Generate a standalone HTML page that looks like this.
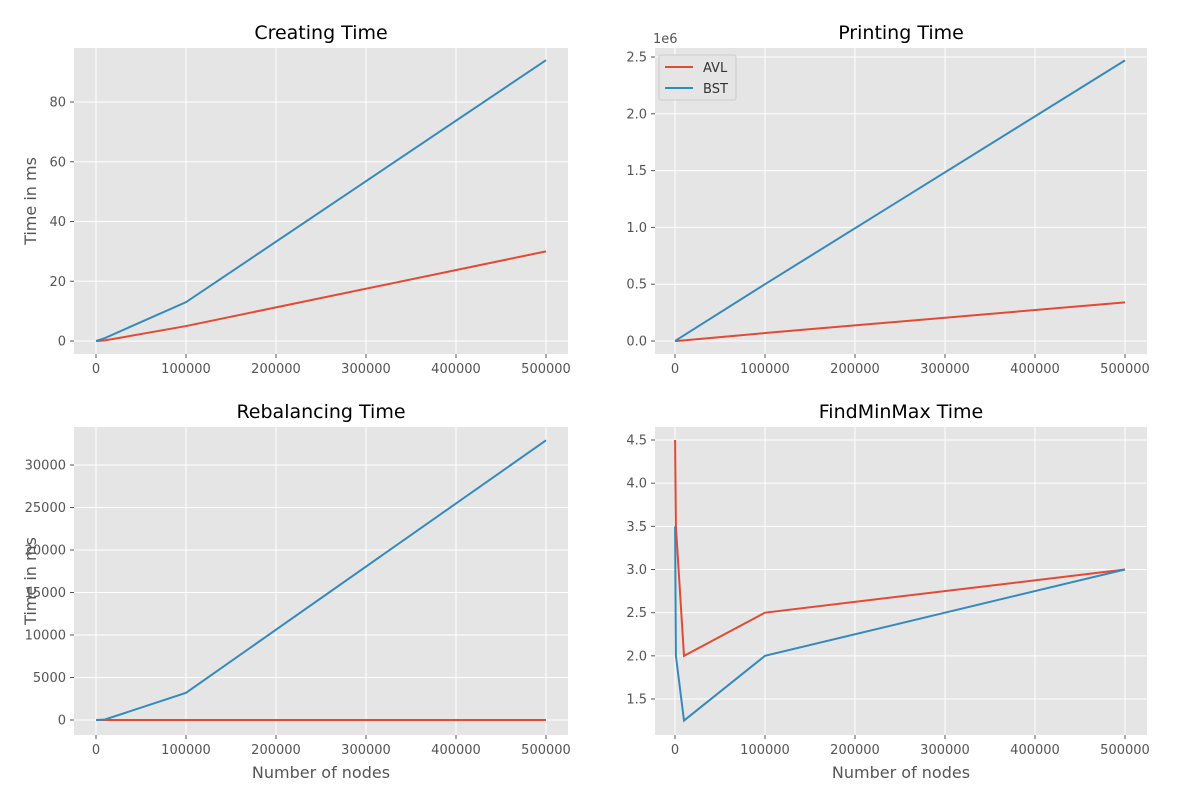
<!DOCTYPE html>
<html><head><meta charset="utf-8"><style>
body{margin:0;background:#fff;font-family:"Liberation Sans","DejaVu Sans",sans-serif}
svg text{font-family:"DejaVu Sans","Liberation Sans",sans-serif}
</style></head><body>
<svg id="fig" width="1200" height="800"></svg>
<script>
const xNodes=[100,1000,10000,100000,500000];
const createAVL=[0,0,0.2,5,30];
const createBST=[0,0.1,1,13,94];
const printAVL=[0,0,0.005e6,0.07e6,0.34e6];
const printBST=[0,0.005e6,0.05e6,0.5e6,2.47e6];
const rebalAVL=[0,0,0,0,0];
const rebalBST=[0,5,60,3200,32900];
const minmaxAVL=[4.5,3.5,2.0,2.5,3.0];
const minmaxBST=[3.5,2.0,1.25,2.0,3.0];
const xTicks=[0,100000,200000,300000,400000,500000];
const panels=[
 {name:'creating',title:'Creating Time',L:74,R:568,T:48,B:354,x0:96,y0v:0,y0:341,y1v:80,y1:102,yt:[0,20,40,60,80],ylab:'Time in ms',xlab:null,a:createAVL,b:createBST,fmt:v=>v,legend:false},
 {name:'printing',title:'Printing Time',L:655,R:1147,T:48,B:354,x0:675,y0v:0,y0:341,y1v:2.5e6,y1:57,yt:[0,0.5e6,1e6,1.5e6,2e6,2.5e6],ylab:null,xlab:null,a:printAVL,b:printBST,fmt:v=>(v/1e6).toFixed(1),legend:true,off:'1e6'},
 {name:'rebalancing',title:'Rebalancing Time',L:74,R:568,T:427,B:735,x0:96,y0v:0,y0:720,y1v:30000,y1:465,yt:[0,5000,10000,15000,20000,25000,30000],ylab:'Time in ms',xlab:'Number of nodes',a:rebalAVL,b:rebalBST,fmt:v=>v,legend:false},
 {name:'findminmax',title:'FindMinMax Time',L:655,R:1147,T:427,B:735,x0:675,y0v:1.5,y0:699,y1v:4.5,y1:440,yt:[1.5,2,2.5,3,3.5,4,4.5],ylab:null,xlab:'Number of nodes',a:minmaxAVL,b:minmaxBST,fmt:v=>v.toFixed(1),legend:false}
];
const NS='http://www.w3.org/2000/svg';
const svg=document.getElementById('fig');
function mk(tag,attrs,parent,text){const e=document.createElementNS(NS,tag);for(const k in attrs)e.setAttribute(k,attrs[k]);if(text!==undefined)e.textContent=text;(parent||svg).appendChild(e);return e;}
panels.forEach(p=>{
 const g=mk('g',{});
 
 
 const xs=v=>p.x0+v*(450/500000);
 const ys=v=>p.y0+(v-p.y0v)*(p.y1-p.y0)/(p.y1v-p.y0v);
 const bg=mk('rect',{x:p.L,y:p.T,width:p.R-p.L,height:p.B-p.T,fill:'#e5e5e5'},g);
 
 
 xTicks.forEach(t=>{const x=xs(t);mk('line',{x1:x,x2:x,y1:p.T,y2:p.B,stroke:'#fff','stroke-width':1},g);mk('line',{x1:x,x2:x,y1:p.B,y2:p.B+4,stroke:'#555'},g);
  const tl=mk('text',{x:x,y:p.B+19,'text-anchor':'middle','font-size':13,fill:'#555'},g,String(t));
  
  });
 p.yt.forEach(t=>{const y=ys(t);mk('line',{x1:p.L,x2:p.R,y1:y,y2:y,stroke:'#fff','stroke-width':1},g);mk('line',{x1:p.L-4,x2:p.L,y1:y,y2:y,stroke:'#555'},g);
  const tl=mk('text',{x:p.L-8,y:y+4.5,'text-anchor':'end','font-size':13,fill:'#555'},g,String(p.fmt(t)));
  
  });
 const ti=mk('text',{x:(p.L+p.R)/2,y:p.T-9,'text-anchor':'middle','font-size':19,fill:'#000'},g,p.title);
 
 
 if(p.ylab){const yl=mk('text',{x:0,y:0,transform:`translate(${p.L-38},${(p.T+p.B)/2}) rotate(-90)`,'text-anchor':'middle','font-size':16,fill:'#555'},g,p.ylab);
  
  }
 if(p.xlab){const xl=mk('text',{x:(p.L+p.R)/2,y:p.B+43,'text-anchor':'middle','font-size':16,fill:'#555'},g,p.xlab);
  
  }
 if(p.off){const o=mk('text',{x:p.L-2,y:p.T-5,'font-size':13,fill:'#555'},g,p.off);
  
  }
 [[p.a,'#e24a33','avl'],[p.b,'#348abd','bst']].forEach(([d,c,n])=>{
  const pl=mk('polyline',{points:d.map((v,i)=>xs(xNodes[i])+','+ys(v)).join(' '),fill:'none',stroke:c,'stroke-width':2},g);
  
  });
 if(p.legend){const lg=mk('g',{},g);
  
  
  mk('rect',{x:p.L+4,y:p.T+7,width:77,height:45,fill:'#e5e5e5',stroke:'#ccc',rx:2},lg);
  [['AVL','#e24a33'],['BST','#348abd']].forEach(([n,c],i)=>{const y=p.T+19+i*21;
   mk('line',{x1:p.L+10,x2:p.L+38,y1:y,y2:y,stroke:c,'stroke-width':2},lg);
   const t=mk('text',{x:p.L+48,y:y+5,'font-size':13,fill:'#333'},lg,n);
   
   });}
});
</script>
</body></html>
